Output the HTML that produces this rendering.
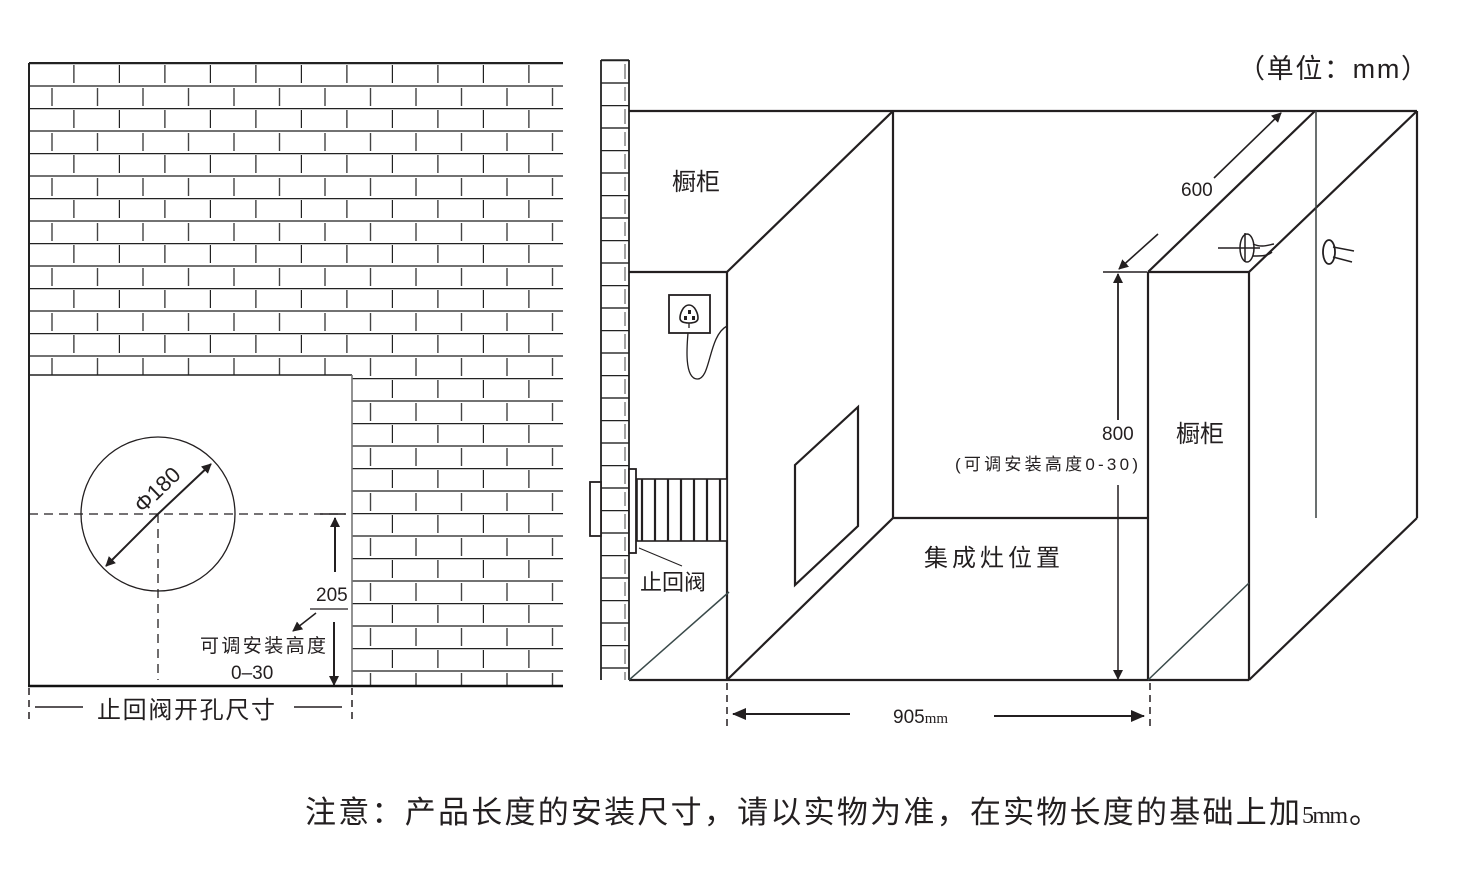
<!DOCTYPE html>
<html><head><meta charset="utf-8"><style>
html,body{margin:0;padding:0;background:#fff;}
svg{display:block;}
text{font-family:"Liberation Sans","Noto Sans CJK SC",sans-serif;fill:#231f20;}
</style></head><body>
<svg width="1462" height="876" viewBox="0 0 1462 876" xmlns="http://www.w3.org/2000/svg">
<defs>
<pattern id="brick" patternUnits="userSpaceOnUse" x="29" y="63" width="45.5" height="45">
  <rect width="45.5" height="45" fill="#fff"/>
  <line x1="0" y1="0.5" x2="45.5" y2="0.5" stroke="#222" stroke-width="1.6"/>
  <line x1="0" y1="23" x2="45.5" y2="23" stroke="#444" stroke-width="1.4"/>
  <line x1="45" y1="2" x2="45" y2="20" stroke="#222" stroke-width="1.4"/>
  <line x1="23" y1="25" x2="23" y2="43" stroke="#444" stroke-width="1.4"/>
</pattern>
<pattern id="brick2" patternUnits="userSpaceOnUse" x="601" y="60" width="28" height="45">
  <rect width="28" height="45" fill="#fff"/>
  <line x1="0" y1="0.5" x2="28" y2="0.5" stroke="#222" stroke-width="1.4"/>
  <line x1="0" y1="23" x2="28" y2="23" stroke="#333" stroke-width="1.4"/>
  <line x1="24" y1="4" x2="24" y2="19" stroke="#444" stroke-width="1"/>
  <line x1="24" y1="27" x2="24" y2="41" stroke="#444" stroke-width="1"/>
</pattern>
<marker id="ar" markerWidth="10" markerHeight="10" refX="9" refY="5" orient="auto" markerUnits="userSpaceOnUse"><path d="M0,0 L10,5 L0,10 Z" fill="#231f20"/></marker>
<marker id="ar2" markerWidth="14" markerHeight="12" refX="13" refY="6" orient="auto" markerUnits="userSpaceOnUse"><path d="M0,0 L14,6 L0,12 Z" fill="#231f20"/></marker>
</defs>

<rect x="29" y="63" width="534" height="623" fill="url(#brick)"/>
<rect x="29" y="375" width="323" height="311" fill="#fff"/>
<line x1="29" y1="63" x2="563" y2="63" stroke="#222" stroke-width="2"/>
<line x1="29" y1="63" x2="29" y2="686" stroke="#222" stroke-width="2"/>
<line x1="29" y1="375" x2="352" y2="375" stroke="#222" stroke-width="1.6"/>
<line x1="352" y1="375" x2="352" y2="686" stroke="#777" stroke-width="1.6"/>
<line x1="28" y1="686" x2="563" y2="686" stroke="#111" stroke-width="2.5"/>

<circle cx="158" cy="514" r="77" fill="none" stroke="#231f20" stroke-width="1.3"/>
<line x1="29" y1="514" x2="345" y2="514" stroke="#231f20" stroke-width="1.3" stroke-dasharray="9,6"/>
<line x1="158" y1="514" x2="158" y2="680" stroke="#231f20" stroke-width="1.3" stroke-dasharray="9,6"/>
<line x1="158" y1="514" x2="211" y2="464" stroke="#231f20" stroke-width="2" marker-end="url(#ar)"/>
<line x1="158" y1="514" x2="106" y2="566" stroke="#231f20" stroke-width="2" marker-end="url(#ar)"/>
<text x="0" y="0" font-size="22" transform="translate(143,514) rotate(-44)">Φ180</text>
<line x1="320" y1="514" x2="346" y2="514" stroke="#231f20" stroke-width="1.5"/>
<line x1="335" y1="572" x2="335" y2="518" stroke="#231f20" stroke-width="2" marker-end="url(#ar)"/>
<text x="316" y="601" font-size="19">205</text>
<line x1="310" y1="609" x2="348" y2="609" stroke="#231f20" stroke-width="1.3"/>
<line x1="316" y1="613" x2="293" y2="631" stroke="#231f20" stroke-width="1.5" marker-end="url(#ar)"/>
<line x1="334" y1="622" x2="334" y2="685" stroke="#231f20" stroke-width="2" marker-end="url(#ar)"/>
<text x="200" y="652" font-size="19" textLength="126">可调安装高度</text>
<text x="231" y="679" font-size="19">0–30</text>
<line x1="29" y1="688" x2="29" y2="724" stroke="#231f20" stroke-width="1.5" stroke-dasharray="7,5"/>
<line x1="352" y1="688" x2="352" y2="724" stroke="#231f20" stroke-width="1.5" stroke-dasharray="7,5"/>
<line x1="35" y1="707" x2="83" y2="707" stroke="#231f20" stroke-width="1.5"/>
<line x1="294" y1="707" x2="342" y2="707" stroke="#231f20" stroke-width="1.5"/>
<text x="97" y="718" font-size="24" textLength="178">止回阀开孔尺寸</text>

<rect x="601" y="60" width="28" height="620" fill="url(#brick2)"/>
<line x1="601" y1="60" x2="601" y2="680" stroke="#222" stroke-width="1.8"/>
<line x1="629" y1="60" x2="629" y2="680" stroke="#222" stroke-width="1.8"/>
<line x1="601" y1="60" x2="629" y2="60" stroke="#222" stroke-width="1.5"/>

<g stroke="#231f20" stroke-width="2.2" fill="none">
  <line x1="629" y1="111" x2="1417" y2="111"/>
  <line x1="893" y1="111" x2="893" y2="518"/>
  <line x1="893" y1="518" x2="1148" y2="518"/>
  <line x1="629" y1="272" x2="727" y2="272"/>
  <line x1="727" y1="272" x2="893" y2="111"/>
  <line x1="727" y1="272" x2="727" y2="680"/>
  <line x1="727" y1="680" x2="893" y2="518"/>
  <line x1="629" y1="680" x2="1249" y2="680"/>
  <line x1="1148" y1="272" x2="1249" y2="272"/>
  <line x1="1148" y1="272" x2="1148" y2="680"/>
  <line x1="1249" y1="272" x2="1249" y2="680"/>
  <line x1="1148" y1="272" x2="1315" y2="111"/>
  <line x1="1249" y1="272" x2="1417" y2="111"/>
  <line x1="1417" y1="111" x2="1417" y2="518"/>
  <line x1="1249" y1="680" x2="1417" y2="518"/>
  <path d="M795,465 L858,407 L858,526 L795,585 Z"/>
</g>
<line x1="1316" y1="111" x2="1316" y2="518" stroke="#3a4040" stroke-width="1.5"/>
<line x1="1148" y1="680" x2="1249" y2="583" stroke="#3a4a4a" stroke-width="1.5"/>
<line x1="629" y1="680" x2="729" y2="592" stroke="#3a4a4a" stroke-width="1.5"/>

<rect x="669" y="295" width="41" height="38" fill="#fff" stroke="#231f20" stroke-width="1.8"/>
<path d="M689,305 C683,305 680,314 680,318 C680,322 684,323 689,323 C694,323 698,322 698,318 C698,314 695,305 689,305 Z" fill="none" stroke="#231f20" stroke-width="1.6"/>
<rect x="688" y="310" width="3" height="4" fill="#231f20"/><rect x="684" y="316" width="3" height="4" fill="#231f20"/><rect x="692" y="316" width="3" height="4" fill="#231f20"/>
<path d="M689,323 L689,328 M688,333 C687,345 684,378 697,379 C711,380 708,336 727,326" fill="none" stroke="#231f20" stroke-width="1.3"/>

<rect x="590" y="482" width="11" height="54" fill="#fff" stroke="#231f20" stroke-width="1.8"/>
<rect x="629" y="469" width="7" height="84" fill="#fff" stroke="#231f20" stroke-width="1.8"/>
<rect x="637" y="479" width="90" height="62" fill="#fff" stroke="#231f20" stroke-width="1.6"/>
<g stroke="#231f20" stroke-width="2.2">
<line x1="642" y1="479" x2="642" y2="541"/><line x1="655" y1="479" x2="655" y2="541"/><line x1="668" y1="479" x2="668" y2="541"/><line x1="681" y1="479" x2="681" y2="541"/><line x1="694" y1="479" x2="694" y2="541"/><line x1="707" y1="479" x2="707" y2="541"/><line x1="720" y1="479" x2="720" y2="541"/>
</g>
<line x1="639" y1="548" x2="682" y2="566" stroke="#231f20" stroke-width="1"/>
<text x="640" y="590" font-size="22">止回阀</text>

<line x1="1218" y1="248" x2="1260" y2="248" stroke="#231f20" stroke-width="1.5"/>
<line x1="1245" y1="233" x2="1245" y2="262" stroke="#231f20" stroke-width="1.5"/>
<ellipse cx="1247" cy="248" rx="7" ry="14" fill="none" stroke="#231f20" stroke-width="1.5"/>
<path d="M1253,244 C1262,248 1268,245 1274,244 M1253,256 C1262,256 1268,256 1272,252" fill="none" stroke="#231f20" stroke-width="1.5"/>
<ellipse cx="1329" cy="252" rx="6" ry="12" fill="none" stroke="#231f20" stroke-width="1.8"/>
<line x1="1333" y1="247" x2="1354" y2="251" stroke="#231f20" stroke-width="1.5"/>
<line x1="1333" y1="257" x2="1352" y2="262" stroke="#231f20" stroke-width="1.5"/>

<line x1="1103" y1="272" x2="1147" y2="272" stroke="#231f20" stroke-width="1.5"/>
<line x1="1158" y1="234" x2="1119" y2="269" stroke="#231f20" stroke-width="1.6" marker-end="url(#ar)"/>
<line x1="1214" y1="178" x2="1281" y2="113" stroke="#231f20" stroke-width="1.6" marker-end="url(#ar)"/>
<text x="1181" y="196" font-size="19">600</text>

<line x1="1118" y1="420" x2="1118" y2="274" stroke="#231f20" stroke-width="1.8" marker-end="url(#ar)"/>
<line x1="1118" y1="485" x2="1118" y2="679" stroke="#231f20" stroke-width="1.5" marker-end="url(#ar)"/>
<text x="1102" y="440" font-size="19">800</text>
<text x="955" y="470" font-size="17" textLength="183">(可调安装高度0-30)</text>

<line x1="727" y1="683" x2="727" y2="728" stroke="#231f20" stroke-width="1.5" stroke-dasharray="7,5"/>
<line x1="1150" y1="683" x2="1150" y2="728" stroke="#231f20" stroke-width="1.5" stroke-dasharray="7,5"/>
<line x1="850" y1="714" x2="733" y2="714" stroke="#231f20" stroke-width="2" marker-end="url(#ar2)"/>
<line x1="994" y1="716" x2="1144" y2="716" stroke="#231f20" stroke-width="2" marker-end="url(#ar2)"/>
<text x="893" y="723" font-size="19">905<tspan style="font-family:'Liberation Serif',serif" font-size="15">mm</tspan></text>

<text x="672" y="190" font-size="24">橱柜</text>
<text x="1176" y="442" font-size="24">橱柜</text>
<text x="924" y="566" font-size="24" textLength="136">集成灶位置</text>
<text x="1238" y="78" font-size="27" textLength="190">（单位：mm）</text>

<text x="305" y="823" font-size="31" textLength="995">注意：产品长度的安装尺寸，请以实物为准，在实物长度的基础上加</text>
<text x="1302" y="823" font-size="24" style="font-family:'Liberation Serif',serif" textLength="46">5mm</text>
<text x="1349" y="823" font-size="31">。</text>
</svg>
</body></html>
